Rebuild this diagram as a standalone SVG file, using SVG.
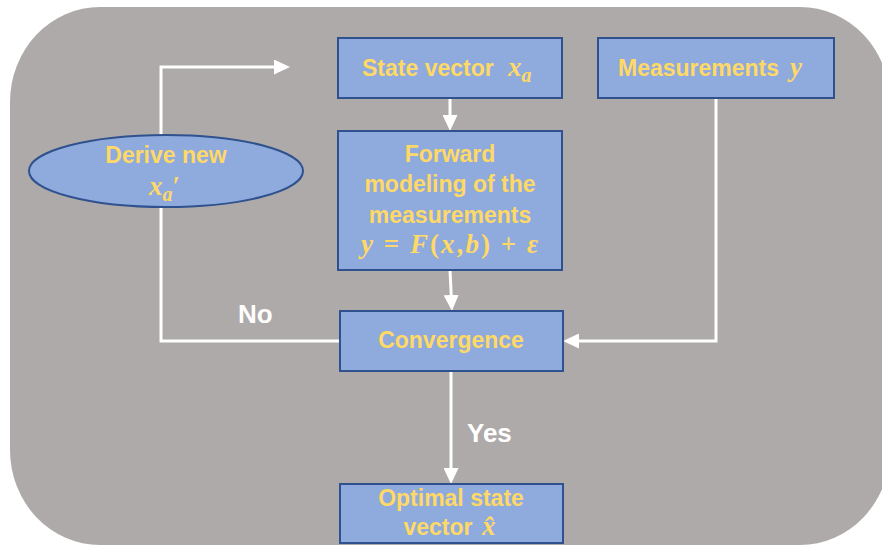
<svg xmlns="http://www.w3.org/2000/svg" width="882" height="547" viewBox="0 0 882 547">
<style>
.box{fill:#8FAADC;stroke:#2F528F;stroke-width:2}
.t{font-family:"Liberation Sans",Arial,sans-serif;font-weight:bold;font-size:23px;fill:#FFD966;text-anchor:middle}
.m{font-family:"Liberation Serif","DejaVu Serif",serif;font-weight:bold;font-style:italic;fill:#FFD966}
.up{font-style:normal}
.lbl{font-family:"Liberation Sans",Arial,sans-serif;font-weight:bold;font-size:26px;fill:#FFFFFF}
.c{fill:none;stroke:#FFFFFF;stroke-width:3}
</style>
<defs>
<marker id="ah" markerUnits="userSpaceOnUse" markerWidth="16" markerHeight="15" refX="8" refY="7.5" orient="auto">
<path d="M0,0 L16,7.5 L0,15 Z" fill="#FFFFFF"/>
</marker>
</defs>
<rect x="10" y="7" width="880" height="538" rx="90" ry="95" fill="#AEAAA9"/>
<g id="connectors">
<polyline class="c" points="340,341 161,341 161,67 282,67" marker-end="url(#ah)"/>
<line class="c" x1="450" y1="98" x2="450" y2="123" marker-end="url(#ah)"/>
<line class="c" x1="450" y1="270" x2="451.6" y2="303" marker-end="url(#ah)"/>
<polyline class="c" points="716,98 716,341 571,341" marker-end="url(#ah)"/>
<line class="c" x1="451" y1="371" x2="451" y2="476" marker-end="url(#ah)"/>
<text class="lbl" x="238" y="323">No</text>
<text class="lbl" x="467" y="442">Yes</text>
</g>
<g id="state">
<rect class="box" x="338" y="38" width="224" height="60"/>
<text class="t" x="362" y="76" style="text-anchor:start">State vector</text>
<text class="m" x="508" y="76" font-size="27">x<tspan font-size="20" dy="6">a</tspan></text>
</g>
<g id="measurements">
<rect class="box" x="598" y="38" width="236" height="60"/>
<text class="t" x="618" y="76" style="text-anchor:start">Measurements</text>
<text class="m" x="790" y="76" font-size="27">y</text>
</g>
<g id="derive">
<ellipse class="box" cx="166" cy="171" rx="137" ry="36"/>
<text class="t" x="166" y="163">Derive new</text>
<text class="m" x="149" y="195" font-size="27">x<tspan font-size="20" dy="6">a</tspan><tspan class="up" font-size="27" dy="-6">′</tspan></text>
</g>
<g id="forward">
<rect class="box" x="338" y="131" width="224" height="139"/>
<text class="t" x="450" y="162">Forward</text>
<text class="t" x="450" y="192">modeling of the</text>
<text class="t" x="450" y="223">measurements</text>
<text class="m" x="361" y="253" font-size="27" textLength="177" lengthAdjust="spacing">y <tspan class="up">=</tspan> F<tspan class="up">(</tspan>x<tspan class="up">,</tspan>b<tspan class="up">)</tspan> <tspan class="up">+</tspan> ε</text>
</g>
<g id="convergence">
<rect class="box" x="340" y="311" width="223" height="60"/>
<text class="t" x="451" y="348">Convergence</text>
</g>
<g id="optimal">
<rect class="box" x="340" y="484" width="223" height="59"/>
<text class="t" x="451" y="506">Optimal state</text>
<text class="t" x="438" y="535">vector</text>
<text class="m" x="482" y="535" font-size="27">x̂</text>
</g>
</svg>
